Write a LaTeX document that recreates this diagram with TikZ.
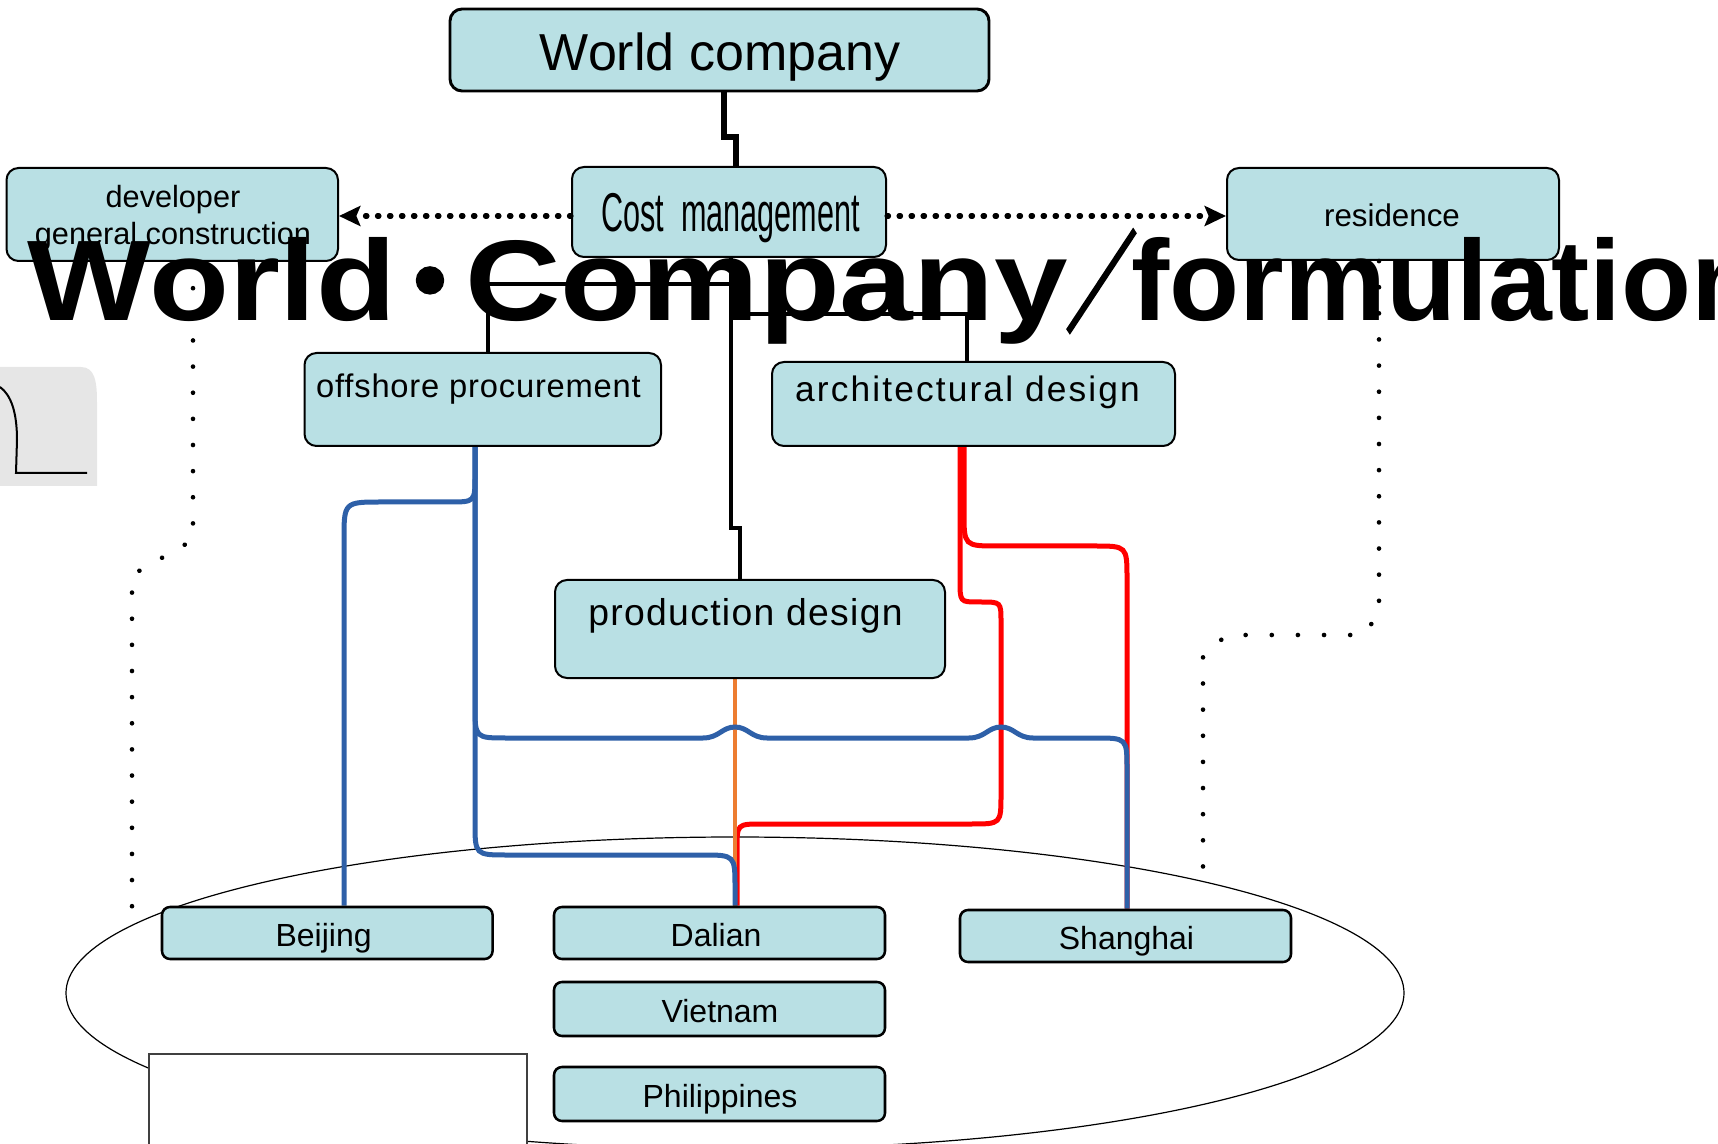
\documentclass[tikz,border=0pt]{standalone}
\usepackage{fontspec}
\setmainfont{Liberation Sans}
\newfontfamily\cjkfont{Noto Sans CJK JP}[FakeBold=3]
\usepackage{graphicx}
\usetikzlibrary{fit,arrows.meta}
\definecolor{boxfill}{RGB}{185,224,228}
\definecolor{lnblue}{RGB}{46,96,168}
\definecolor{lnorange}{RGB}{237,125,49}
\definecolor{lnred}{RGB}{255,0,0}
\definecolor{shadegray}{RGB}{230,230,230}
\pgfdeclarelayer{bottom}
\pgfdeclarelayer{back}
\pgfsetlayers{bottom,back,main}
\begin{document}
\begin{tikzpicture}[x=0.75pt,y=-0.75pt,
  box/.style={draw=black, line width=1.5pt, fill=boxfill, rounded corners=9pt, inner sep=0pt},
  cbox/.style={box, line width=1.9pt, rounded corners=6pt},
  lbl/.style={anchor=base, inner sep=0pt},
  big/.style={inner sep=0pt, font=\fontsize{86}{90}\selectfont\bfseries},
  tree/.style={draw=black, line width=2.7pt},
  trunk/.style={draw=black, line width=4.5pt, line cap=round},
  flow/.style={line width=3.75pt},
  dotarrow/.style={line width=3.8pt, line cap=round, dash pattern=on 1.2pt off 7.8pt, -{Stealth[length=16pt,width=15pt,inset=3pt]}},
  dotline/.style={line width=3.4pt, line cap=round, dash pattern=on 0.1pt off 19.5pt}
]
\useasboundingbox (0,0) rectangle (1718,1144);
\clip (0,0) rectangle (1718,1144);

% ---------------- boxes ----------------
\node[box, line width=2.2pt, fit={(450,9) (989,91)}] (wc) {};
\node[lbl, font=\fontsize{39}{46}\selectfont] (wct) at (720,71) {World company};

\node[box, fit={(6.5,168) (338,261)}] (dev) {};
\node[lbl, font=\fontsize{23}{28}\selectfont] (devt1) at (173,208) {developer};
\node[lbl, font=\fontsize{23}{28}\selectfont] (devt2) at (173,245) {general construction};

\node[box, fit={(572,167) (886,257)}] (cm) {};
\node[lbl, font=\fontsize{41}{48}\selectfont] (cmt) at (730.5,232) {\scalebox{0.56}[1]{Cost\ \ management}};

\node[box, fit={(1227,168) (1559,260)}] (res) {};
\node[lbl, font=\fontsize{23.5}{28}\selectfont] (rest) at (1392,227) {residence};

\node[box, fit={(304.5,353) (661,446)}] (op) {};
\node[lbl, font=\fontsize{24.5}{29}\selectfont] (opt) at (478.5,398) {\addfontfeatures{LetterSpace=2.5}offshore procurement};

\node[box, fit={(772,362) (1175,446)}] (ad) {};
\node[lbl, font=\fontsize{26.5}{31}\selectfont] (adt) at (967.5,402) {\addfontfeatures{LetterSpace=6}architectural design};

\node[box, fit={(555,580) (945,678)}] (pd) {};
\node[lbl, font=\fontsize{28}{33}\selectfont] (pdt) at (745.5,626) {\addfontfeatures{LetterSpace=3.5}production design};

\node[cbox, fit={(162,907) (492.6,959)}] (bj) {};
\node[lbl, font=\fontsize{24}{28}\selectfont] (bjt) at (323.6,946) {Beijing};
\node[cbox, fit={(554,907) (885,959)}] (da) {};
\node[lbl, font=\fontsize{24}{28}\selectfont] (dat) at (716,946) {Dalian};
\node[cbox, fit={(554,982) (885,1036)}] (vn) {};
\node[lbl, font=\fontsize{24}{28}\selectfont] (vnt) at (720,1022) {Vietnam};
\node[cbox, fit={(554,1067) (885,1121)}] (ph) {};
\node[lbl, font=\fontsize{24}{28}\selectfont] (pht) at (720,1107) {Philippines};
\node[cbox, fit={(960,910) (1291,962)}] (sh) {};
\node[lbl, font=\fontsize{24}{28}\selectfont] (sht) at (1126.5,949) {Shanghai};

% ---------------- background shapes ----------------
\begin{pgfonlayer}{bottom}
\draw[line width=0.9pt] (735,993) ellipse [x radius=501.75pt, y radius=117pt];
\draw[draw=black!75, line width=1pt, fill=white] (149,1054) rectangle (527,1170);
\fill[shadegray] (-5,367) -- (81,367) .. controls (95,367) and (97,382) .. (97,402) -- (97,486) -- (-5,486) -- cycle;
\draw[line width=1.5pt] (0,387) .. controls (11,395) and (17,412) .. (17,440) -- (16,473) -- (87,473);
\end{pgfonlayer}

% ---------------- connectors ----------------
\begin{pgfonlayer}{back}
\draw[trunk] (wc.south -| 724,0) -- (724,137) -- (736,137) -- (cm.north -| 736,0);
\draw[tree] (cm.south -| 731,0) -- (731,284) -- (488,284) -- (op.north -| 488,0);
\draw[tree] (cm.south -| 731,0) -- (731,314) -- (967,314) -- (ad.north -| 967,0);
\draw[tree] (cm.south -| 731,0) -- (731,528) -- (740,528) -- (pd.north -| 740,0);
% red
\draw[flow, lnred] (ad.south -| 960,0) -- (960,580) .. controls (960,602) .. (978,602) -- (981,602) .. controls (1001,602) .. (1001,622) -- (1001,794) .. controls (1001,824) .. (971,824) -- (762,824) .. controls (737,824) .. (737,849) -- (da.north -| 737,0);
\draw[flow, lnred] (ad.south -| 964,0) -- (964,512) .. controls (964,546) .. (998,546) -- (1094,546) .. controls (1127,546) .. (1127,579) -- (sh.north -| 1127,0);
% orange
\draw[flow, lnorange, line width=3.5pt] (pd.south -| 735,0) -- (da.north -| 735,0);
% blue
\draw[flow, lnblue] (op.south -| 475,0) -- (475,476) .. controls (475,502) .. (449,502) -- (382,502) .. controls (344,502) .. (344,540) -- (bj.north -| 344,0);
\draw[flow, lnblue] (op.south -| 475,0) -- (475,822) .. controls (475,855) .. (508,855) -- (702,855) .. controls (735,855) .. (735,888) -- (da.north -| 735,0);
\draw[flow, lnblue] (op.south -| 475,0) -- (475,706) .. controls (475,738) .. (507,738) -- (703,738) .. controls (719,738) and (722,727) .. (735,727) .. controls (748,727) and (751,738) .. (767,738) -- (969,738) .. controls (985,738) and (988,727) .. (1001,727) .. controls (1014,727) and (1017,738) .. (1033,738) -- (1095,738) .. controls (1127,738) .. (1127,770) -- (sh.north -| 1127,0);
\end{pgfonlayer}

% ---------------- dotted links ----------------
\draw[dotarrow] (cm.west |- 0,216) -- (dev.east |- 0,216);
\draw[dotarrow] (cm.east |- 0,216) -- (res.west |- 0,216);
\coordinate (lend) at (132,910);
\coordinate (rend) at (1203,880);
\draw[dotline] (dev.south -| 193,0) -- (193,540) -- (132,575) -- (lend);
\draw[dotline] (res.south -| 1379,0) -- (1379,615) -- (1362,635) -- (1227,635) -- (1203,655) -- (rend);

% ---------------- big overlay title ----------------
\node[big, anchor=base west] (bt1) at (27.5,321) {\scalebox{1.142}[1]{World}};
\node[inner sep=0pt, anchor=base, font=\fontsize{88}{92}\selectfont\cjkfont] (bt2) at (430,325) {・};
\node[big, anchor=base west] (bt3) at (465,321) {\scalebox{1.153}[1]{Company}};
\node[inner sep=0pt, anchor=base, font=\fontsize{82.5}{90}\selectfont\cjkfont] (bt4) at (1101.5,323) {\scalebox{0.66}[1]{／}};
\node[big, anchor=base west] (bt5) at (1131,321) {formulation};
\end{tikzpicture}
\end{document}
